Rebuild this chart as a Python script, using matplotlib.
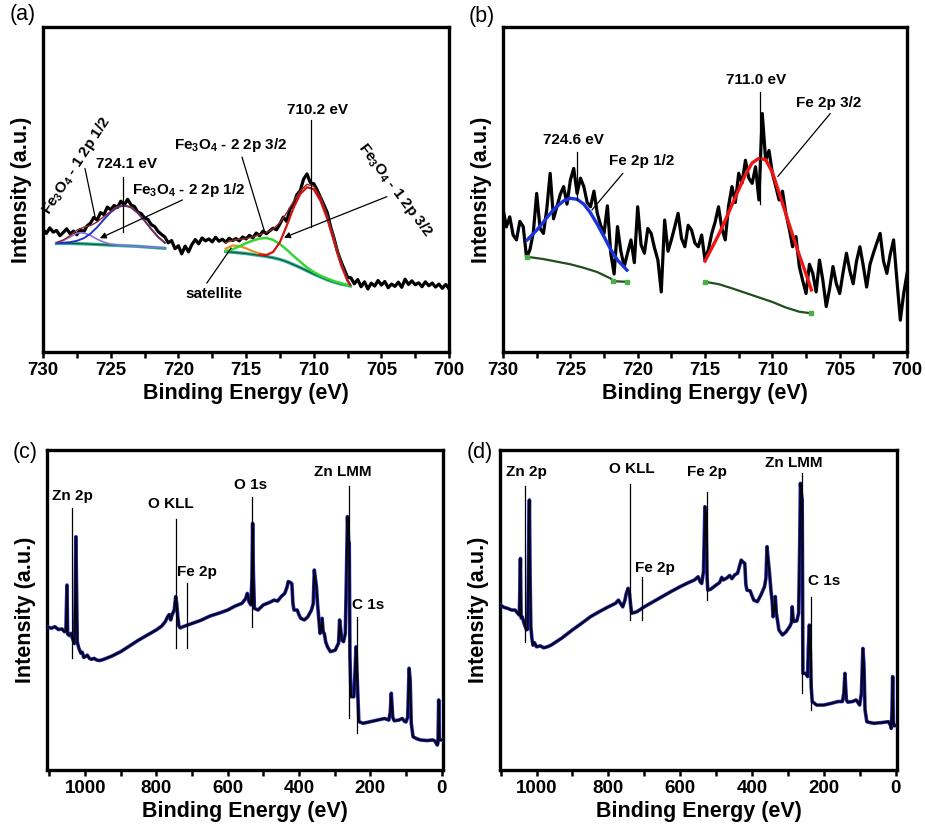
import matplotlib
matplotlib.use('Agg')
import matplotlib.pyplot as plt
import numpy as np
from matplotlib.ticker import MultipleLocator

plt.rcParams['font.family'] = ['Liberation Sans', 'DejaVu Sans']
plt.rcParams['mathtext.fontset'] = 'custom'
plt.rcParams['mathtext.rm'] = 'Liberation Sans:bold'
plt.rcParams['mathtext.it'] = 'Liberation Sans:bold'
plt.rcParams['mathtext.bf'] = 'Liberation Sans:bold'

# ---------------- (a) Fe 2p high resolution, fitted ----------------
energy_a = np.linspace(730, 700, 121)  # 0.25 eV step
counts_a = [
    37.8, 36.5, 38.2, 36.9,
    37.4, 35.8, 36.8, 37.9,
    36.4, 37.2, 36.1, 37.7,
    36.9, 38.8, 39.6, 41.4,
    40.6, 42.9, 42.3, 44.6,
    43.8, 45.1, 44.5, 46.4,
    45.2, 47.0, 45.3, 44.8,
    43.1, 42.6, 41.3, 40.8,
    39.2, 38.6, 37.1, 36.2,
    35.4, 33.6, 34.3, 31.8,
    32.7, 30.2, 32.6, 30.8,
    33.1, 34.6, 33.3, 35.1,
    34.2, 34.8, 33.9, 35.3,
    34.1, 34.7, 33.8, 35.0,
    34.3, 34.9, 34.2, 35.4,
    34.8, 35.9, 35.1, 36.6,
    35.8, 37.2, 36.4, 37.3,
    38.1, 37.6, 39.4, 41.5,
    40.2, 44.1, 45.3, 48.4,
    49.6, 53.2, 54.8, 52.1,
    51.8, 49.9, 47.6, 45.3,
    42.9, 38.5, 35.0, 31.0,
    28.0, 25.5, 23.0, 22.8,
    21.0, 22.3, 20.1, 21.6,
    19.4, 21.2, 20.3, 22.0,
    20.6, 21.7, 19.8, 20.9,
    20.2, 21.5, 19.9, 22.4,
    20.8, 21.9, 20.7, 21.3,
    20.1, 21.6, 20.4, 21.2,
    20.0, 20.9, 19.6, 20.8,
    19.4,
]

fit_e_a1 = [729.0, 728.5, 728.0, 727.5, 727.0, 726.5, 726.0, 725.5, 725.0,
            724.5, 724.0, 723.5, 723.0, 722.5, 722.0, 721.5, 721.0]
peak_1_12 = [33.5, 33.6, 33.8, 34.2, 35.0, 36.4, 38.4, 40.8, 43.0,
             44.6, 45.1, 44.5, 42.8, 40.4, 37.8, 35.4, 33.6]
peak_2_12 = [33.6, 34.3, 35.4, 36.6, 36.7, 35.9, 34.7, 33.8, 33.2,
             32.9, 32.7, 32.6, 32.5, 32.4, 32.2, 32.1, 31.9]
envelope_a1 = [33.7, 34.5, 35.8, 37.5, 38.4, 38.9, 40.0, 41.7, 43.3,
               44.8, 45.1, 44.6, 42.8, 40.5, 37.8, 35.5, 33.6]
bg_e_a1 = [729, 728, 727, 726, 725, 724, 723, 722, 721]
bg_a1 = [33.4, 33.4, 33.3, 33.1, 32.9, 32.7, 32.5, 32.2, 31.9]

fit_e_a2 = [716.5, 716.0, 715.5, 715.0, 714.5, 714.0, 713.5, 713.0, 712.5, 712.0,
            711.5, 711.0, 710.5, 710.0, 709.5, 709.0, 708.5, 708.0, 707.5, 707.3]
bg_a2 = [30.9, 30.7, 30.5, 30.3, 30.0, 29.7, 29.4, 29.0, 28.5, 27.8,
         26.9, 26.0, 25.0, 24.0, 23.1, 22.2, 21.5, 20.9, 20.5, 20.3]
peak_2_32 = [31.0, 31.6, 32.5, 33.5, 34.3, 34.9, 35.1, 34.5, 33.2, 31.5,
             29.6, 27.8, 26.0, 24.6, 23.5, 22.6, 21.8, 21.2, 20.6, 20.3]
envelope_a2 = [33.6, 34.4, 34.7, 34.9, 35.4, 36.1, 36.8, 37.9, 39.8, 42.8,
               46.3, 49.6, 51.6, 51.0, 47.8, 42.2, 35.2, 28.0, 22.4, 20.9]
sat_e = [716.5, 716.0, 715.5, 715.0, 714.5, 714.0, 713.5]
satellite = [31.8, 32.8, 32.6, 31.9, 31.0, 30.3, 29.9]
red_e_a = [714.0, 713.5, 713.0, 712.5, 712.0, 711.5, 711.0, 710.5,
           710.0, 709.5, 709.0, 708.5, 708.0, 707.5, 707.3]
peak_1_32 = [30.0, 29.8, 30.8, 33.8, 38.8, 44.3, 48.6, 50.7,
             50.1, 46.5, 41.0, 34.0, 27.0, 21.8, 20.6]

# ---------------- (b) Fe 2p high resolution ----------------
energy_b = np.linspace(730, 700, 121)  # 0.25 eV step
counts_b = [
    44.0, 38.5, 41.6, 36.0,
    34.5, 40.2, 38.6, 29.0,
    31.5, 36.8, 48.8, 38.0,
    36.5, 44.0, 55.0, 41.0,
    44.7, 48.5, 50.9, 45.5,
    52.9, 56.5, 48.8, 53.5,
    50.9, 46.0, 44.7, 49.5,
    42.7, 39.0, 36.5, 45.0,
    30.4, 24.0, 38.6, 31.0,
    26.3, 30.5, 34.5, 27.5,
    44.7, 33.0, 30.4, 38.0,
    36.5, 32.0, 28.3, 18.5,
    40.6, 31.0, 34.5, 38.5,
    42.7, 35.0, 32.4, 39.0,
    37.5, 33.5, 32.4, 36.0,
    28.3, 31.5, 36.5, 40.0,
    44.7, 38.0, 34.5, 45.0,
    50.9, 46.0, 55.0, 52.0,
    59.0, 53.5, 51.9, 57.0,
    46.8, 73.4, 59.0, 62.0,
    55.0, 51.0, 46.8, 49.5,
    42.7, 38.0, 32.4, 35.5,
    26.3, 22.0, 18.0, 27.0,
    24.2, 18.5, 28.3, 22.0,
    14.0, 19.5, 26.3, 21.0,
    18.0, 24.5, 30.4, 25.0,
    21.0, 28.0, 32.4, 26.5,
    20.0, 27.0, 30.4, 33.5,
    36.5, 28.0, 24.2, 30.0,
    34.5, 22.0, 9.8, 18.0,
    24.2,
]

blue_e_b = [728.2, 727.5, 727.0, 726.5, 726.0, 725.5, 725.0, 724.5,
            724.0, 723.5, 723.0, 722.5, 722.0, 721.5, 720.8]
fe_2p12 = [34.5, 37.5, 40.0, 42.6, 44.8, 46.5, 47.3, 47.0,
           45.5, 42.8, 39.3, 35.5, 31.5, 28.3, 25.2]
bg_e_b1 = [728.2, 727.0, 726.0, 725.0, 724.0, 723.0, 722.0, 721.8, 720.8]
bg_b1 = [29.3, 28.6, 27.8, 27.0, 25.9, 24.6, 22.6, 21.8, 21.6]
red_e_b = [715.0, 714.5, 714.0, 713.5, 713.0, 712.5, 712.0, 711.5, 711.0,
           710.5, 710.0, 709.5, 709.0, 708.5, 708.0, 707.5, 707.1]
fe_2p32 = [28.0, 32.0, 36.0, 40.5, 45.3, 50.0, 54.6, 58.2, 59.6,
           59.2, 55.3, 49.0, 42.5, 36.0, 29.8, 24.0, 19.1]
bg_e_b2 = [715.0, 714.0, 713.0, 712.0, 711.0, 710.0, 709.0, 708.0, 707.1]
bg_b2 = [21.6, 20.9, 19.6, 18.2, 16.8, 15.4, 13.7, 12.4, 11.9]

# ---------------- (c) survey ----------------
energy_c = [1107, 1095, 1085, 1075, 1065, 1058, 1054, 1051, 1049, 1044, 1040, 1035,
            1030, 1028, 1026, 1024, 1022, 1018, 1012, 1008, 1004, 1000, 994, 988,
            982, 975, 968, 960, 950, 925, 900, 875, 850, 825, 800, 785, 775, 768,
            764, 760, 756, 750, 746, 743, 740, 737, 733, 725, 715, 700, 675, 650,
            625, 600, 580, 560, 550, 545, 540, 535, 532, 530, 528, 525, 515, 500,
            480, 470, 460, 450, 440, 434, 430, 424, 420, 417, 414, 405, 400, 395,
            385, 375, 365, 360, 357, 354, 351, 348, 345, 341, 338, 335, 332, 329,
            325, 320, 312, 305, 298, 292, 289, 286, 283, 280, 275, 270, 267, 264,
            261, 259, 257, 254, 246, 243, 240, 237, 235, 232, 220, 200, 180, 160,
            148, 144, 141, 137, 133, 120, 110, 104, 100, 95, 91, 88, 85, 80, 70,
            60, 40, 25, 18, 15, 12, 10, 8, 6, 4, -4]
counts_c = [44.8, 44.3, 44.8, 43.9, 44.1, 43.2, 43.4, 57.8, 42.5, 42.0, 42.7, 41.0,
            39.5, 52.0, 72.9, 56.0, 40.0, 38.2, 36.5, 36.8, 35.2, 35.4, 35.9, 34.9,
            34.6, 34.9, 34.4, 34.2, 34.5, 35.6, 37.0, 38.8, 40.6, 42.2, 43.8, 45.0, 46.4, 48.0,
            48.6, 46.9, 48.5, 50.0, 54.2, 52.0, 47.9, 45.0, 44.4, 44.8, 45.2, 45.8, 46.8, 48.1,
            49.0, 50.0, 51.2, 52.1, 53.5, 55.2, 52.5, 51.6, 60.0, 77.1, 62.0, 50.5, 50.0, 51.6,
            52.5, 53.1, 52.8, 54.2, 55.2, 57.0, 58.9, 58.6, 58.2, 52.0, 50.0, 50.0, 48.5, 47.4,
            46.9, 47.9, 50.0, 52.0, 62.5, 60.0, 57.3, 52.0, 47.9, 42.7, 44.0, 47.4, 43.0, 42.7,
            40.0, 38.5, 37.0, 37.2, 37.5, 39.0, 39.6, 46.9, 44.0, 40.6, 40.1, 42.7, 60.0, 79.2,
            72.0, 70.8, 35.4, 22.9, 22.9, 30.0, 38.5, 30.0, 24.0, 15.1, 14.6, 15.1, 15.6, 16.1,
            15.6, 18.0, 24.0, 16.5, 15.4, 15.6, 16.1, 15.2, 15.0, 16.5, 31.8, 28.0, 14.6, 10.4, 9.8,
            9.4, 9.2, 9.4, 9.0, 8.3, 7.8, 8.5, 21.9, 10.0, 9.4, 9.4]

# ---------------- (d) survey ----------------
energy_d = [1102, 1090, 1080, 1070, 1060, 1052, 1048, 1045, 1043, 1040, 1034, 1028,
            1025, 1022, 1020, 1018, 1016, 1013, 1010, 1006, 1000, 990, 980, 970,
            960, 930, 900, 875, 850, 825, 800, 780, 772, 766, 760, 754, 750, 745,
            741, 738, 735, 728, 720, 700, 675, 650, 625, 600, 580, 560, 550, 544,
            540, 535, 531, 528, 525, 523, 515, 500, 490, 484, 480, 470, 462, 456,
            448, 440, 434, 430, 425, 420, 417, 414, 405, 400, 395, 385, 375, 365,
            361, 358, 355, 351, 347, 344, 341, 338, 335, 332, 329, 325, 315, 305,
            295, 290, 288, 285, 283, 275, 270, 267, 265, 262, 260, 258, 250, 245,
            243, 240, 237, 235, 232, 220, 200, 180, 160, 148, 144, 141, 137, 133,
            120, 110, 104, 100, 95, 91, 88, 85, 80, 70, 60, 40, 20, 14, 12, 10, 8,
            6, 4, -4]
counts_d = [51.6, 50.8, 50.5, 50.0, 50.0, 48.9, 48.4, 66.1, 47.5, 47.9, 45.5, 43.8,
            44.0, 70.0, 84.4, 60.0, 44.8, 41.1, 39.0, 39.8, 38.5, 38.8, 38.2, 38.5,
            39.0, 41.2, 43.8, 45.8, 47.9, 49.5, 51.0, 52.1, 53.1, 52.0, 51.0, 53.0, 55.2, 56.8,
            55.0, 51.6, 49.0, 49.2, 49.5, 51.0, 52.6, 54.2, 55.8, 57.3, 58.4, 59.4, 60.4, 58.8,
            58.3, 62.0, 82.3, 80.0, 60.0, 56.2, 56.5, 57.8, 58.6, 60.2, 59.4, 60.0, 60.8, 59.8,
            61.0, 61.5, 64.0, 65.6, 65.0, 64.6, 58.0, 56.2, 56.0, 54.5, 53.1, 52.6, 54.7, 57.3,
            60.0, 69.8, 66.0, 61.5, 56.0, 53.1, 47.9, 50.0, 54.2, 49.0, 46.9, 43.8, 42.2, 43.2,
            44.8, 46.0, 51.0, 47.0, 46.4, 46.6, 49.0, 70.0, 89.6, 86.0, 84.4, 30.2, 30.2, 29.2,
            38.0, 45.3, 36.0, 26.0, 21.4, 20.3, 20.3, 20.8, 21.4, 21.4, 24.0, 30.2, 22.0, 21.2,
            21.4, 21.9, 21.0, 20.3, 24.0, 38.0, 33.0, 18.8, 15.1, 14.8, 14.6, 14.8, 15.1, 14.0, 13.0, 18.0, 29.2,
            15.0, 13.8, 14.0]

# peak labels: (text, text_x, text_y, line_x, line_top, line_bottom)
labels_c = [('Zn 2p', 1037, 85.5, 1037, 81.8, 34.9),
            ('O KLL', 761, 83.0, 745, 78.6, 38.0),
            ('Fe 2p', 687, 61.8, 713, 58.3, 38.0),
            ('O 1s', 537, 89.0, 531, 85.2, 44.8),
            ('Zn LMM', 276, 93.0, 260, 88.8, 16.1),
            ('C 1s', 206, 51.5, 236, 47.9, 11.5)]
labels_d = [('Zn 2p', 1028, 93.0, 1033, 88.8, 40.1),
            ('O KLL', 735, 94.0, 740, 89.4, 46.9),
            ('Fe 2p', 526, 93.0, 526, 87.0, 53.1),
            ('Fe 2p', 670, 63.2, 705, 60.2, 46.9),
            ('Zn LMM', 284, 96.0, 261, 92.7, 24.0),
            ('C 1s', 200, 59.2, 235, 54.2, 18.8)]

LBL = 15.5
TICK = 13.5
ANN = 11


def style_axis(ax, xlim, major, minor):
    ax.set_xlim(*xlim)
    ax.set_ylim(0, 100)
    ax.set_yticks([])
    ax.xaxis.set_major_locator(MultipleLocator(major))
    ax.xaxis.set_minor_locator(MultipleLocator(minor))
    ax.tick_params(axis='x', which='both', direction='out', length=4, width=1.8,
                   labelsize=TICK, pad=3)
    for lab in ax.get_xticklabels():
        lab.set_fontweight('bold')
    for s in ax.spines.values():
        s.set_linewidth(2.4)
    ax.set_xlabel('Binding Energy (eV)', fontsize=LBL, fontweight='bold', labelpad=3)
    ax.set_ylabel('Intensity (a.u.)', fontsize=LBL, fontweight='bold', labelpad=8)


def vline(ax, x, y0, y1):
    ax.plot([x, x], [y0, y1], color='black', lw=0.9, zorder=6)


def arrow(ax, start, end, head=True):
    style = '-|>' if head else '-'
    ax.annotate('', xy=end, xytext=start,
                arrowprops=dict(arrowstyle=style, color='black', lw=0.9,
                                mutation_scale=9, shrinkA=0, shrinkB=0), zorder=6)


fig = plt.figure(figsize=(9.25, 8.32), dpi=100)
ax_a = fig.add_axes([0.0465, 0.5769, 0.439, 0.3906])
ax_b = fig.add_axes([0.5438, 0.5769, 0.4368, 0.3906])
ax_c = fig.add_axes([0.0508, 0.0745, 0.4281, 0.3846])
ax_d = fig.add_axes([0.5405, 0.0745, 0.4292, 0.3846])

# ---- (a)
ax_a.plot(energy_a, counts_a, color='black', lw=2.3, zorder=3)
for e, bg in [(bg_e_a1, bg_a1), (fit_e_a2, bg_a2)]:
    ax_a.plot(e, bg, color='#2db3aa', lw=2.4, zorder=4)
    ax_a.plot(e, bg, color='#1d5a2a', lw=0.9, zorder=4)
ax_a.plot(fit_e_a1, peak_2_12, color='#8a70d8', lw=1.2, zorder=4)
ax_a.plot(fit_e_a1, peak_1_12, color='#2035c8', lw=1.4, zorder=4)
ax_a.plot(fit_e_a1, envelope_a1, color='#8b2a2a', lw=1.0, zorder=5)
ax_a.plot(sat_e, satellite, color='#e8901e', lw=1.6, zorder=4)
ax_a.plot(fit_e_a2, peak_2_32, color='#33d633', lw=1.8, zorder=4)
ax_a.plot(red_e_a, peak_1_32, color='#d81010', lw=1.6, zorder=4)
ax_a.plot(fit_e_a2, envelope_a2, color='#8b2a2a', lw=1.0, zorder=5)

style_axis(ax_a, (730, 700), 5, 2.5)
ax_a.text(709.7, 74.5, '710.2 eV', fontsize=ANN, fontweight='bold', ha='center', va='center')
vline(ax_a, 710.2, 71.4, 38.5)
ax_a.text(723.8, 57.8, '724.1 eV', fontsize=ANN, fontweight='bold', ha='center', va='center')
vline(ax_a, 724.1, 53.8, 37.0)
ax_a.text(719.2, 50.0, r'Fe$_3$O$_4$ - 2 2p 1/2', fontsize=ANN, fontweight='bold',
          ha='center', va='center')
arrow(ax_a, (719.7, 46.8), (725.8, 35.0))
ax_a.text(727.5, 57.5, r'Fe$_3$O$_4$ - 1 2p 1/2', fontsize=ANN, fontweight='bold',
          ha='center', va='center', rotation=57)
arrow(ax_a, (726.9, 56.5), (726.15, 41.5), head=False)
ax_a.text(716.1, 63.8, r'Fe$_3$O$_4$ - 2 2p 3/2', fontsize=ANN, fontweight='bold',
          ha='center', va='center')
arrow(ax_a, (715.3, 60.0), (713.6, 36.6), head=False)
ax_a.text(704.0, 49.8, r'Fe$_3$O$_4$ - 1 2p 3/2', fontsize=ANN, fontweight='bold',
          ha='center', va='center', rotation=-53)
arrow(ax_a, (704.6, 47.8), (712.2, 35.2))
ax_a.text(717.4, 18.0, 'satellite', fontsize=ANN, fontweight='bold', ha='center', va='center')
arrow(ax_a, (717.9, 21.2), (716.1, 32.0), head=False)

# ---- (b)
ax_b.plot(energy_b, counts_b, color='black', lw=2.3, zorder=3)
ax_b.plot(blue_e_b, fe_2p12, color='#1a35e0', lw=2.4, zorder=4)
ax_b.plot(red_e_b, fe_2p32, color='#ee1515', lw=2.4, zorder=4)
ax_b.plot(bg_e_b1, bg_b1, color='#1f4f1f', lw=1.6, zorder=4,
          marker='s', markersize=3, markerfacecolor='#49b049', markeredgecolor='#49b049',
          markevery=[0, 7, 8])
ax_b.plot(bg_e_b2, bg_b2, color='#1f4f1f', lw=1.6, zorder=4,
          marker='s', markersize=3, markerfacecolor='#49b049', markeredgecolor='#49b049',
          markevery=[0, 8])
style_axis(ax_b, (730, 700), 5, 2.5)
ax_b.text(711.2, 83.8, '711.0 eV', fontsize=ANN, fontweight='bold', ha='center', va='center')
vline(ax_b, 710.9, 80.1, 45.7)
ax_b.text(705.8, 76.6, 'Fe 2p 3/2', fontsize=ANN, fontweight='bold', ha='center', va='center')
arrow(ax_b, (705.7, 73.4), (709.6, 54.0), head=False)
ax_b.text(724.8, 65.3, '724.6 eV', fontsize=ANN, fontweight='bold', ha='center', va='center')
vline(ax_b, 724.5, 61.6, 46.8)
ax_b.text(719.7, 58.7, 'Fe 2p 1/2', fontsize=ANN, fontweight='bold', ha='center', va='center')
arrow(ax_b, (721.1, 55.0), (723.4, 43.7), head=False)

# ---- (c), (d)
for ax, e, c, labels, xl in [(ax_c, energy_c, counts_c, labels_c, (1107, -4)),
                             (ax_d, energy_d, counts_d, labels_d, (1102, -4))]:
    ax.plot(e, c, color='#2a2ac8', lw=2.6, zorder=3)
    ax.plot(e, c, color='#050514', lw=1.5, zorder=4)
    style_axis(ax, xl, 200, 100)
    for txt, tx, ty, lx, l0, l1 in labels:
        ax.text(tx, ty, txt, fontsize=ANN, fontweight='bold', ha='center', va='center')
        vline(ax, lx, l0, l1)

for txt, x, y in [('(a)', 0.024, 0.982), ('(b)', 0.521, 0.980),
                  ('(c)', 0.027, 0.456), ('(d)', 0.519, 0.456)]:
    fig.text(x, y, txt, fontsize=15.5, ha='center', va='center')

fig.savefig('out.png', dpi=100)
